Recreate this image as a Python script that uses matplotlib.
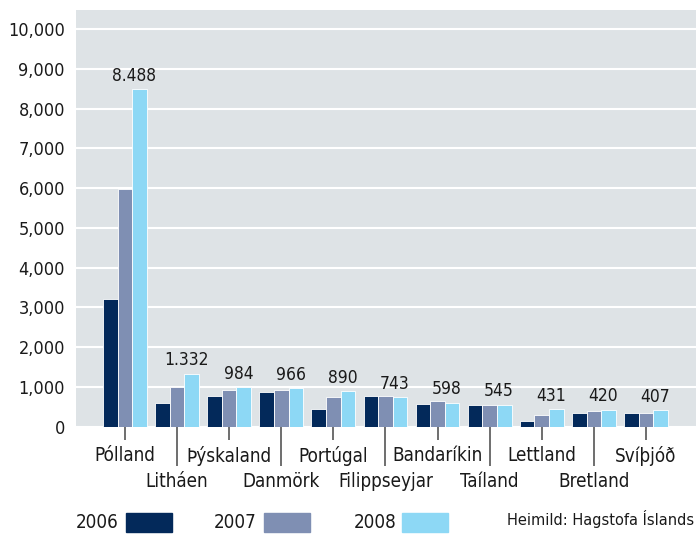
import numpy as np
import matplotlib.pyplot as plt
from matplotlib.patches import Rectangle
from matplotlib.ticker import FixedLocator, FuncFormatter

# data
countries = ['Pólland', 'Litháen', 'Þýskaland', 'Danmörk', 'Portúgal', 'Filippseyjar',
             'Bandaríkin', 'Taíland', 'Lettland', 'Bretland', 'Svíþjóð']
y2006 = [3200, 600, 760, 880, 430, 760, 555, 530, 150, 350, 330]
y2007 = [5970, 990, 930, 930, 730, 760, 630, 530, 300, 400, 330]
y2008 = [8488, 1332, 984, 966, 890, 743, 598, 545, 431, 420, 407]
years = ['2006', '2007', '2008']
value_labels = ['8.488', '1.332', '984', '966', '890', '743', '598', '545', '431', '420', '407']

colors = ['#03295a', '#7f8fb3', '#8dd8f5']

plt.rcParams['font.family'] = ['DejaVu Sans']
plt.rcParams['font.stretch'] = 'condensed'

fig = plt.figure(figsize=(6.96, 5.34), dpi=100)
ax = fig.add_axes([0.1092, 0.2013, 0.8908, 0.78])
ax.set_facecolor('#dee3e6')

x = np.arange(len(countries))
w = 0.28
for k, vals in enumerate([y2006, y2007, y2008]):
    ax.bar(x + (k - 1) * w, vals, w, color=colors[k], edgecolor='white',
           linewidth=0.6, zorder=3)

# value labels on 2008 bars
for i, lab in enumerate(value_labels):
    ax.text(x[i] + w - 0.1, y2008[i] + 110, lab, ha='center', va='bottom',
            fontsize=12.5, color='#1a1a1a', zorder=4)

ax.set_xlim(-0.94, 10.96)
ax.set_ylim(0, 10480)

ax.yaxis.set_major_locator(FixedLocator(np.arange(0, 10001, 1000)))
ax.yaxis.set_major_formatter(FuncFormatter(lambda v, p: f'{int(v):,}'))
ax.grid(axis='y', color='white', linewidth=1.5, zorder=0)
ax.tick_params(axis='y', length=0, pad=8, labelsize=13, labelcolor='#1a1a1a')

# staggered x labels: even on major ticks (short), odd on minor ticks (long)
even = x[::2]
odd = x[1::2]
ax.xaxis.set_major_locator(FixedLocator(even))
ax.xaxis.set_minor_locator(FixedLocator(odd))
ax.set_xticklabels([countries[i] for i in even])
ax.set_xticklabels([countries[i] for i in odd], minor=True)
ax.tick_params(axis='x', which='major', length=9, width=1.2, color='#555555',
               pad=5, labelsize=13.5, labelcolor='#1a1a1a')
ax.tick_params(axis='x', which='minor', length=28, width=1.2, color='#555555',
               pad=5, labelsize=13.5, labelcolor='#1a1a1a')

for s in ax.spines.values():
    s.set_visible(False)

# legend along the bottom
W, H = 696.0, 534.0
legend_x = [76, 214, 354]
box_x = [126, 264, 402]
for k in range(3):
    fig.text(legend_x[k] / W, 1 - 522 / H, years[k], fontsize=13.5, va='center',
             color='#1a1a1a')
    fig.patches.append(Rectangle((box_x[k] / W, 1 - 532 / H), 46 / W, 19 / H,
                                 transform=fig.transFigure, color=colors[k]))

fig.text(694 / W, 1 - 519 / H, 'Heimild: Hagstofa Íslands', ha='right',
         va='center', fontsize=10.5, fontstretch='normal', color='#1a1a1a')

fig.savefig('out.png', dpi=100)
